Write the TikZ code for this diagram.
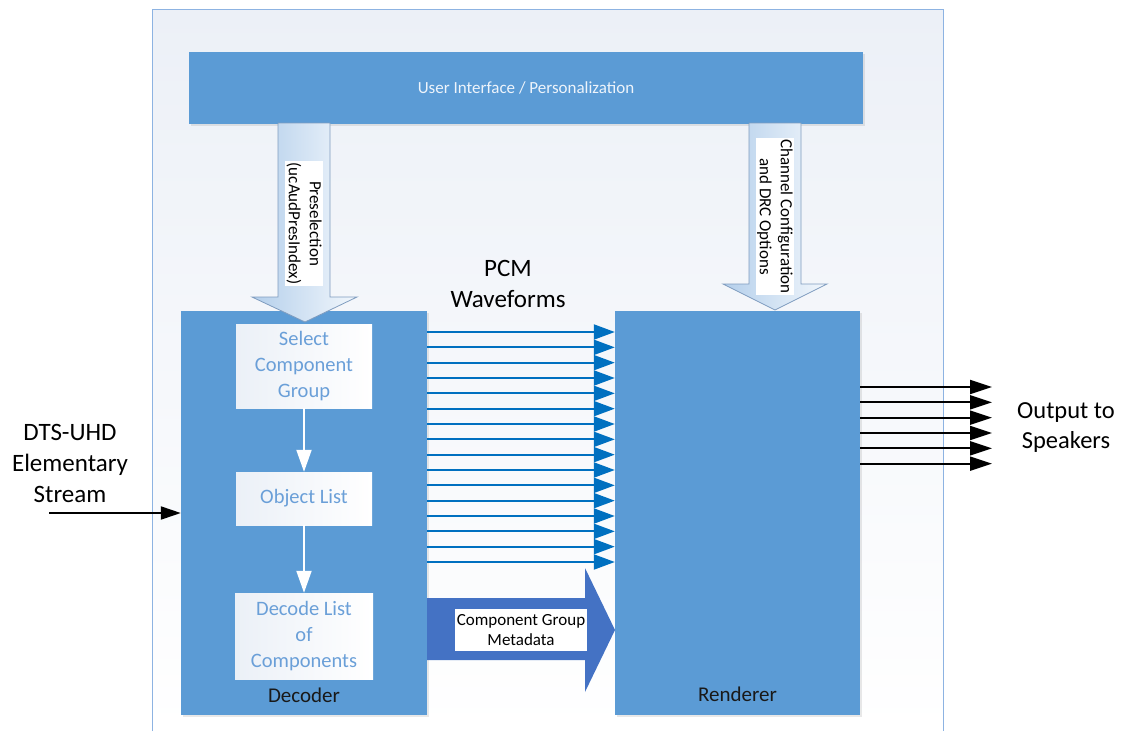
\documentclass[tikz,border=0pt]{standalone}
\usepackage{fontspec}
\setmainfont{Carlito}
\usetikzlibrary{arrows.meta,shadows}
\definecolor{boxblue}{HTML}{5B9BD5}
\definecolor{pcmblue}{HTML}{0070C0}
\definecolor{metablue}{HTML}{4472C4}
\definecolor{framecol}{HTML}{8DB3E2}
\definecolor{bgtop}{HTML}{ECF0F7}
\definecolor{arrowL}{HTML}{B4CFEB}
\definecolor{arrowR}{HTML}{F2F7FC}
\definecolor{arrowedge}{HTML}{7F9CBF}
\definecolor{innertext}{HTML}{6A9FD8}
\definecolor{innerbg}{HTML}{EBF0F7}
\definecolor{uitext}{HTML}{EEF4FB}
\begin{document}
\begin{tikzpicture}[x=1pt,y=-1pt,
  block/.style={rectangle, fill=boxblue, draw=none, inner sep=0pt,
    drop shadow={opacity=0.18, shadow xshift=1.5pt, shadow yshift=-1.5pt}},
  innerbox/.style={rectangle, inner sep=0pt, left color=innerbg, right color=white,
    text=innertext, align=center, font=\fontsize{20.5}{26}\selectfont,
    minimum width=136pt},
  bigdown/.style={left color=arrowL, right color=arrowR, draw=arrowedge, line width=0.8pt},
  lbl/.style={fill=white, inner sep=1.5pt, align=center, font=\fontsize{17}{21}\selectfont},
  bigtext/.style={align=center, font=\fontsize{25}{31}\selectfont, text=black},
  pcm/.style={draw=pcmblue, line width=2pt, -{Triangle[length=21pt,width=15pt]}},
  outarrow/.style={draw=black, line width=2pt, -{Triangle[length=22pt,width=14pt]}},
  whitearrow/.style={draw=white, line width=2pt, -{Triangle[length=22pt,width=15pt,fill=white]}},
  caption/.style={font=\fontsize{21}{25}\selectfont, text=black!90}
]
\useasboundingbox (0,0) rectangle (1121,731);
% background frame
\shade[top color=bgtop, bottom color=white] (152,9) rectangle (943,731);
\draw[framecol, line width=0.8pt] (152,731) -- (152,9) -- (943,9) -- (943,731);

% main blocks
\node[block, minimum width=674pt, minimum height=72pt, text=uitext,
  font=\fontsize{17}{20}\selectfont] (ui) at (526,88) {User Interface / Personalization};
\node[block, minimum width=246pt, minimum height=404pt] (dec) at (304,513) {};
\node[block, minimum width=245pt, minimum height=404pt] (ren) at (737.5,513) {};

% big down arrows
\path[bigdown] (278,123) -- (330,123) -- (330,297) -- (357,297) -- (305,322) -- (252,297) -- (278,297) -- cycle;
\path[bigdown] (749,123) -- (801,123) -- (801,284) -- (827,284) -- (775,310) -- (723,284) -- (749,284) -- cycle;
\node[lbl, rotate=-90] (presel) at (304,223.5) {Preselection\\(ucAudPresIndex)};
\node[lbl, rotate=-90] (chcfg) at (775,216.5) {Channel Configuration\\and DRC Options};

% inner boxes
\node[innerbox, minimum height=84pt] (sel) at (304,366) {Select\\Component\\Group};
\node[innerbox, minimum height=53pt] (obj) at (304,498.5) {Object List};
\node[innerbox, minimum width=138pt, minimum height=86pt] (dlist) at (304,636) {Decode List\\of\\Components};
\draw[whitearrow] (sel.south) -- (obj.north);
\draw[whitearrow] (obj.south) -- (dlist.north);
\node[caption] (declbl) at (304,695) {Decoder};
\node[caption] (renlbl) at (737.5,694) {Renderer};

% PCM waveforms
\foreach \i in {0,...,15} {
  \pgfmathsetmacro\yy{332+\i*15.333}
  \draw[pcm] (dec.east |- 0,\yy) -- (ren.west |- 0,\yy);
}
\node[bigtext] (pcmlbl) at (508,284) {PCM\\Waveforms};

% metadata arrow
\path[fill=metablue] (427,598) -- (585,598) -- (585,568) -- (615,630) -- (585,692) -- (585,660) -- (427,660) -- cycle;
\node[lbl, inner sep=0pt, minimum width=132pt, minimum height=42pt, font=\fontsize{17}{20}\selectfont] (meta) at (521,630) {Component Group\\Metadata};

% input
\node[bigtext] (inlbl) at (70,463) {DTS-UHD\\Elementary\\Stream};
\coordinate (instart) at (49,513);
\draw[outarrow, -{Triangle[length=20pt,width=13pt]}] (instart) -- (dec.west);

% outputs
\foreach \i in {0,...,5} {
  \pgfmathsetmacro\yy{387+\i*15.333}
  \coordinate (o\i) at (992,\yy);
  \draw[outarrow] (ren.east |- o\i) -- (o\i);
}
\node[bigtext, font=\fontsize{24.5}{30}\selectfont] (outlbl) at (1066,428) {Output to\\Speakers};
\end{tikzpicture}
\end{document}
